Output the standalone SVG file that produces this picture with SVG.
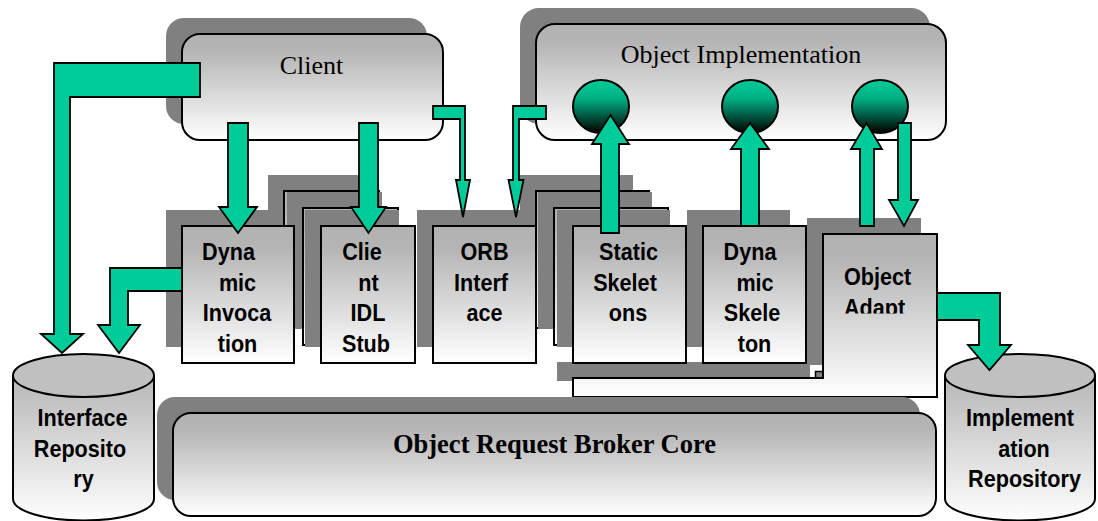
<svg xmlns="http://www.w3.org/2000/svg" width="1098" height="521" viewBox="0 0 1098 521">
  <defs>
    <linearGradient id="boxFill" x1="0" y1="0" x2="0" y2="1">
      <stop offset="0" stop-color="#b2b2b2"/>
      <stop offset="0.15" stop-color="#b4b4b4"/>
      <stop offset="1" stop-color="#ffffff"/>
    </linearGradient>
    <linearGradient id="cylFill" x1="0" y1="0" x2="0" y2="1">
      <stop offset="0" stop-color="#b8b8b8"/>
      <stop offset="0.2" stop-color="#c4c4c4"/>
      <stop offset="1" stop-color="#ffffff"/>
    </linearGradient>
    <linearGradient id="ballFill" x1="0" y1="0" x2="0" y2="1">
      <stop offset="0" stop-color="#00cc99"/>
      <stop offset="0.35" stop-color="#00b083"/>
      <stop offset="1" stop-color="#000000"/>
    </linearGradient>
    <clipPath id="adaptClip">
      <rect x="824" y="288" width="112" height="25.5"/>
    </clipPath>
  </defs>
  <style>
    .shadow { fill: #808080; }
    .box { fill: url(#boxFill); stroke: #000; stroke-width: 2; }
    .cyl { fill: url(#cylFill); stroke: #000; stroke-width: 2; }
    .cyltop { fill: #c0c0c0; stroke: #000; stroke-width: 2; }
    .ball { fill: url(#ballFill); stroke: #000; stroke-width: 2; }
    .arrow { fill: #00cc99; stroke: #000; stroke-width: 1.8; stroke-linejoin: miter; }
    .title { font-family: "Liberation Serif", "Times New Roman", serif; font-size: 26px; fill: #000; text-anchor: middle; }
    .core { font-family: "Liberation Serif", "Times New Roman", serif; font-size: 26.5px; font-weight: bold; fill: #000; text-anchor: middle; }
    .lbl { font-family: "Liberation Sans", Arial, sans-serif; font-size: 24px; font-weight: bold; fill: #000; text-anchor: middle; }
  </style>

  <!-- Client -->
  <g id="client">
    <rect class="shadow" x="166" y="18" width="261" height="106" rx="18"/>
    <rect class="box" x="182" y="34" width="261" height="106" rx="18"/>
    <text class="title" x="311.5" y="74">Client</text>
  </g>

  <!-- Object Implementation with its three servants -->
  <g id="object-implementation">
    <rect class="shadow" x="520" y="8" width="410" height="116" rx="19"/>
    <rect class="box" x="536" y="24" width="410" height="116" rx="19"/>
    <text class="title" x="741" y="63">Object Implementation</text>
    <ellipse class="ball" cx="601" cy="106.5" rx="28" ry="26.5"/>
    <ellipse class="ball" cx="750" cy="106.5" rx="28" ry="26.5"/>
    <ellipse class="ball" cx="880" cy="106.5" rx="28" ry="26.5"/>
  </g>

  <!-- Client IDL Stub (stacked) -->
  <g id="client-idl-stub">
    <rect class="shadow" x="268" y="175" width="95" height="137"/>
    <rect class="box" x="284" y="191" width="95" height="137"/>
    <rect class="shadow" x="287" y="192" width="95" height="137"/>
    <rect class="box" x="303" y="208" width="95" height="137"/>
    <rect class="shadow" x="305" y="210" width="94" height="137"/>
    <rect class="box" x="321" y="226" width="94" height="137"/>
    <text class="lbl" transform="translate(362 260) scale(0.9 1)">Clie</text>
    <text class="lbl" transform="translate(368.5 290.5) scale(0.9 1)">nt</text>
    <text class="lbl" transform="translate(368 321) scale(0.9 1)">IDL</text>
    <text class="lbl" transform="translate(366 351.5) scale(0.9 1)">Stub</text>
  </g>

  <!-- Dynamic Invocation -->
  <g id="dynamic-invocation">
    <rect class="shadow" x="166" y="210" width="112" height="137"/>
    <rect class="box" x="182" y="226" width="112" height="137"/>
    <text class="lbl" transform="translate(228.5 260) scale(0.9 1)">Dyna</text>
    <text class="lbl" transform="translate(237.5 290.5) scale(0.9 1)">mic</text>
    <text class="lbl" transform="translate(237 321) scale(0.9 1)">Invoca</text>
    <text class="lbl" transform="translate(237.5 351.5) scale(0.9 1)">tion</text>
  </g>

  <!-- Static Skeletons (stacked) -->
  <g id="static-skeletons">
    <rect class="shadow" x="520" y="175" width="113" height="137"/>
    <rect class="box" x="536" y="191" width="113" height="137"/>
    <rect class="shadow" x="538" y="192" width="114" height="137"/>
    <rect class="box" x="554" y="208" width="114" height="137"/>
  </g>

  <!-- ORB Interface -->
  <g id="orb-interface">
    <rect class="shadow" x="417" y="210" width="103" height="137"/>
    <rect class="box" x="433" y="226" width="103" height="137"/>
    <text class="lbl" transform="translate(484.5 260) scale(0.9 1)">ORB</text>
    <text class="lbl" transform="translate(481 290.5) scale(0.9 1)">Interf</text>
    <text class="lbl" transform="translate(484.5 321) scale(0.9 1)">ace</text>
  </g>

  <!-- Object Adapter (L-shaped, runs under the skeletons) -->
  <g id="object-adapter">
    <path class="shadow" d="M807,218 H921 V381 H557 V362 H807 Z"/>
    <rect x="810" y="365" width="13" height="13" fill="#ffffff"/>
    <rect x="815.5" y="371.5" width="7.5" height="6.5" fill="#808080" stroke="#000" stroke-width="1.5"/>
    <path class="box" d="M823,234 H937 V397 H573 V378 H823 Z"/>
    <text class="lbl" transform="translate(877.5 285) scale(0.9 1)">Object</text>
    <g clip-path="url(#adaptClip)">
      <text class="lbl" transform="translate(874.5 315.5) scale(0.9 1)">Adapt</text>
    </g>
  </g>

  <!-- Static Skeletons front card -->
  <g id="static-skeletons-front">
    <rect class="shadow" x="557" y="210" width="113" height="137"/>
    <rect class="box" x="573" y="226" width="113" height="137"/>
    <text class="lbl" transform="translate(628.5 260) scale(0.9 1)">Static</text>
    <text class="lbl" transform="translate(625 290.5) scale(0.9 1)">Skelet</text>
    <text class="lbl" transform="translate(628 321) scale(0.9 1)">ons</text>
  </g>

  <!-- Dynamic Skeleton -->
  <g id="dynamic-skeleton">
    <rect class="shadow" x="687" y="210" width="103" height="137"/>
    <rect class="box" x="703" y="226" width="103" height="137"/>
    <text class="lbl" transform="translate(750 260) scale(0.9 1)">Dyna</text>
    <text class="lbl" transform="translate(755 290.5) scale(0.9 1)">mic</text>
    <text class="lbl" transform="translate(752 321) scale(0.9 1)">Skele</text>
    <text class="lbl" transform="translate(754.5 351.5) scale(0.9 1)">ton</text>
  </g>

  <!-- Object Request Broker Core -->
  <g id="orb-core">
    <rect class="shadow" x="157" y="397" width="763" height="103" rx="18"/>
    <rect class="box" x="173" y="413" width="763" height="103" rx="18"/>
    <text class="core" x="554.5" y="453">Object Request Broker Core</text>
  </g>

  <!-- Interface Repository -->
  <g id="interface-repository">
    <path class="cyl" d="M13,376 V499 A70.5,21.5 0 0 0 154,499 V376 Z"/>
    <ellipse class="cyltop" cx="83.5" cy="375.5" rx="70.5" ry="21.5"/>
    <text class="lbl" transform="translate(82.5 426) scale(0.9 1)">Interface</text>
    <text class="lbl" transform="translate(80 457) scale(0.9 1)">Reposito</text>
    <text class="lbl" transform="translate(83.5 487) scale(0.9 1)">ry</text>
  </g>

  <!-- Implementation Repository -->
  <g id="implementation-repository">
    <path class="cyl" d="M945,376 V499 A75,21.5 0 0 0 1095,499 V376 Z"/>
    <ellipse class="cyltop" cx="1020" cy="375.5" rx="75" ry="21.5"/>
    <text class="lbl" transform="translate(1020 426) scale(0.9 1)">Implement</text>
    <text class="lbl" transform="translate(1024 457) scale(0.9 1)">ation</text>
    <text class="lbl" transform="translate(1024.5 487) scale(0.9 1)">Repository</text>
  </g>

  <!-- Connectors -->
  <g id="connectors">
    <path class="arrow" d="M54,63 H200 V97 H70 V334 H83 L62,353 L41,334 H54 Z"/>
    <path class="arrow" d="M182,268 H110 V325 H98 L119,353 L140,325 H128 V291 H182 Z"/>
    <path class="arrow" d="M228,123 H248 V207 H257 L238,233 L219,207 H228 Z"/>
    <path class="arrow" d="M359,123 H378 V207 H386 L368.5,233 L351,207 H359 Z"/>
    <path class="arrow" d="M433,106 H465 V180 H470 L463,217 L456,180 H460 V119 H433 Z"/>
    <path class="arrow" d="M546,106 H513 V180 H508.5 L516,217 L523.5,180 H519 V119 H546 Z"/>
    <path class="arrow" d="M601,233 V144 H592 L610.5,115 L629,144 H619 V233 Z"/>
    <path class="arrow" d="M741,226 V149 H731 L750,123 L769,149 H759 V226 Z"/>
    <path class="arrow" d="M860,226 V149 H851 L866.5,123 L882,149 H874 V226 Z"/>
    <path class="arrow" d="M898,123 H911 V200 H918 L904,226 L889,200 H898 Z"/>
    <path class="arrow" d="M937,293 H1000 V345 H1011 L989.5,370 L968,345 H979 V320 H937 Z"/>
  </g>
</svg>
